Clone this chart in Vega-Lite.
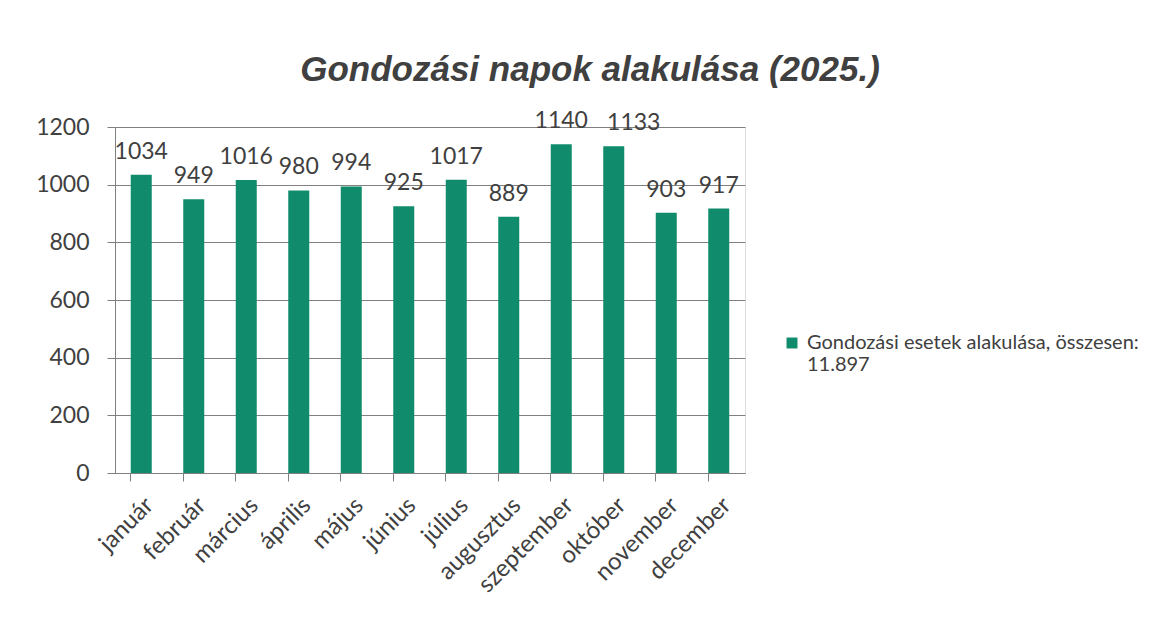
{
  "$schema": "https://vega.github.io/schema/vega-lite/v6.json",
  "autosize": "none",
  "width": 630,
  "height": 346,
  "padding": {"left": 115, "top": 127, "right": 410, "bottom": 151},
  "background": "white",
  "title": {
    "text": "Gondozási napok alakulása (2025.)",
    "font": "Liberation Sans",
    "fontSize": 35,
    "fontWeight": "bold",
    "fontStyle": "italic",
    "color": "#404040",
    "anchor": "middle",
    "frame": "group",
    "dx": 160,
    "offset": 22
  },
  "data": {
    "values": [
      {"honap": "január", "ertek": 1034, "sorozat": "Gondozási esetek alakulása, összesen: 11.897"},
      {"honap": "február", "ertek": 949, "sorozat": "Gondozási esetek alakulása, összesen: 11.897"},
      {"honap": "március", "ertek": 1016, "sorozat": "Gondozási esetek alakulása, összesen: 11.897"},
      {"honap": "április", "ertek": 980, "sorozat": "Gondozási esetek alakulása, összesen: 11.897"},
      {"honap": "május", "ertek": 994, "sorozat": "Gondozási esetek alakulása, összesen: 11.897"},
      {"honap": "június", "ertek": 925, "sorozat": "Gondozási esetek alakulása, összesen: 11.897"},
      {"honap": "július", "ertek": 1017, "sorozat": "Gondozási esetek alakulása, összesen: 11.897"},
      {"honap": "augusztus", "ertek": 889, "sorozat": "Gondozási esetek alakulása, összesen: 11.897"},
      {"honap": "szeptember", "ertek": 1140, "sorozat": "Gondozási esetek alakulása, összesen: 11.897"},
      {"honap": "október", "ertek": 1133, "sorozat": "Gondozási esetek alakulása, összesen: 11.897"},
      {"honap": "november", "ertek": 903, "sorozat": "Gondozási esetek alakulása, összesen: 11.897"},
      {"honap": "december", "ertek": 917, "sorozat": "Gondozási esetek alakulása, összesen: 11.897"}
    ]
  },
  "encoding": {
    "x": {
      "field": "honap",
      "type": "nominal",
      "sort": null,
      "scale": {"paddingInner": 0.6, "paddingOuter": 0.3},
      "axis": {
        "title": null,
        "labelAngle": -45,
        "labelFont": "Lato",
        "labelFontSize": 24,
        "labelColor": "#404040",
        "labelPadding": 12,
        "bandPosition": 0,
        "tickSize": 8,
        "tickColor": "#808080",
        "domainColor": "#808080",
        "grid": false
      }
    },
    "y": {
      "field": "ertek",
      "type": "quantitative",
      "scale": {"domain": [0, 1200], "nice": false},
      "axis": {
        "title": null,
        "format": "d",
        "values": [0, 200, 400, 600, 800, 1000, 1200],
        "labelFont": "Lato",
        "labelFontSize": 23,
        "labelColor": "#404040",
        "labelPadding": 18,
        "tickSize": 8,
        "tickColor": "#808080",
        "domainColor": "#808080",
        "gridColor": "#808080",
        "gridWidth": 1
      }
    }
  },
  "layer": [
    {
      "mark": {"type": "bar", "color": "#108c6c"},
      "encoding": {
        "color": {
          "field": "sorozat",
          "type": "nominal",
          "scale": {"range": ["#108c6c"]},
          "legend": {
            "title": null,
            "orient": "none",
            "legendX": 667,
            "legendY": 206,
            "symbolType": "square",
            "symbolSize": 120,
            "symbolStrokeWidth": 0,
            "labelOffset": 5,
            "labelFont": "Lato",
            "labelFontSize": 20,
            "labelColor": "#404040",
            "labelLimit": 400,
            "labelExpr": "['Gondozási esetek alakulása, összesen:', '11.897']"
          }
        }
      }
    },
    {
      "mark": {
        "type": "text",
        "font": "Lato",
        "fontSize": 23,
        "color": "#404040",
        "baseline": "alphabetic",
        "dy": -16,
        "dx": {"expr": "datum.honap === 'október' ? 20 : 0"}
      },
      "encoding": {"text": {"field": "ertek", "type": "quantitative"}}
    }
  ]
}
